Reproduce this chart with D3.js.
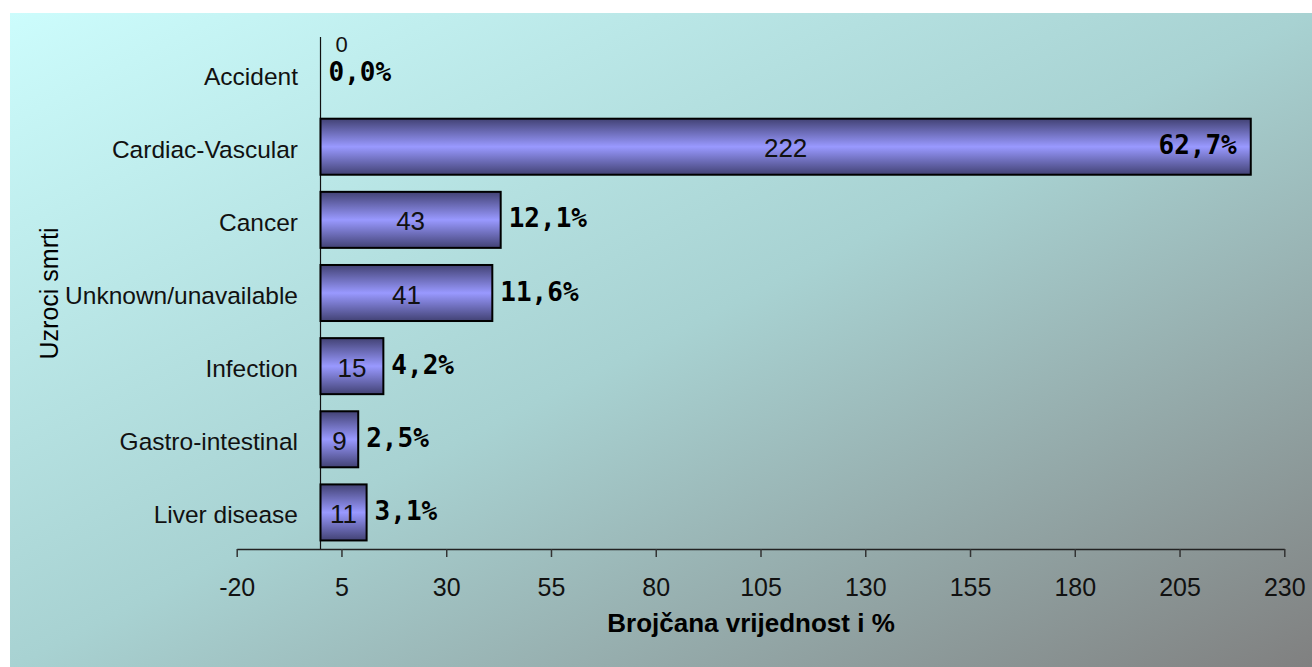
<!DOCTYPE html>
<html>
<head>
<meta charset="utf-8">
<script src="https://cdn.jsdelivr.net/npm/d3@7"></script>
<style>
  html, body { margin: 0; padding: 0; background: #ffffff; }
  svg { display: block; }
</style>
</head>
<body>
<svg id="chart" width="1312" height="667"></svg>
<script>
// ---- data ----
const categories = ["Accident", "Cardiac-Vascular", "Cancer", "Unknown/unavailable", "Infection", "Gastro-intestinal", "Liver disease"];
const counts = [0, 222, 43, 41, 15, 9, 11];
const percentLabels = ["0,0%", "62,7%", "12,1%", "11,6%", "4,2%", "2,5%", "3,1%"];
const tickValues = [-20, 5, 30, 55, 80, 105, 130, 155, 180, 205, 230];
const xTitle = "Brojčana vrijednost i %";
const yTitle = "Uzroci smrti";

// ---- layout ----
const W = 1312, H = 667;
const svg = d3.select("#chart");
const defs = svg.append("defs");

const bg = defs.append("linearGradient").attr("id", "bgGrad")
  .attr("x1", 0).attr("y1", 0).attr("x2", 1).attr("y2", 1);
bg.append("stop").attr("offset", "0%").attr("stop-color", "#ccfcfc");
bg.append("stop").attr("offset", "50%").attr("stop-color", "#a8d2d2");
bg.append("stop").attr("offset", "100%").attr("stop-color", "#808080");

const barGrad = defs.append("linearGradient").attr("id", "barGrad")
  .attr("x1", 0).attr("y1", 0).attr("x2", 0).attr("y2", 1);
barGrad.append("stop").attr("offset", "0%").attr("stop-color", "#424274");
barGrad.append("stop").attr("offset", "50%").attr("stop-color", "#9999ff");
barGrad.append("stop").attr("offset", "100%").attr("stop-color", "#424274");

svg.append("rect").attr("x", 10).attr("y", 13).attr("width", W - 10).attr("height", H - 13)
  .attr("fill", "url(#bgGrad)");

const plotTop = 37, plotBottom = 549;
const x = d3.scaleLinear().domain([-20, 230]).range([236.7, 1284.3]);
const y = d3.scaleBand().domain(categories).range([plotTop, plotBottom])
  .paddingInner(0.234).paddingOuter(0.117);

const data = categories.map((c, i) => ({ cat: c, v: counts[i], pct: percentLabels[i] }));

// x axis
const xAxis = d3.axisBottom(x).tickValues(tickValues).tickSize(8).tickSizeOuter(0).tickPadding(21)
  .tickFormat(d => String(d));
const gx = svg.append("g").attr("transform", `translate(0,${plotBottom})`).call(xAxis);
gx.select(".domain").attr("stroke", "#222").attr("stroke-width", 1.5);
gx.selectAll(".tick line").attr("stroke", "#333").attr("stroke-width", 1.5);
gx.selectAll(".tick text").attr("font-family", "'Liberation Sans', Arial, sans-serif")
  .attr("font-size", 25).attr("fill", "#111");

// y axis line (at zero)
svg.append("line").attr("x1", x(0)).attr("x2", x(0)).attr("y1", plotTop).attr("y2", plotBottom)
  .attr("stroke", "#111").attr("stroke-width", 1.2);

// category labels
svg.append("g").selectAll("text").data(categories).join("text")
  .attr("x", 298).attr("y", d => y(d) + y.bandwidth() / 2).attr("dy", "0.45em")
  .attr("text-anchor", "end")
  .attr("font-family", "'Liberation Sans', Arial, sans-serif").attr("font-size", 24.5)
  .attr("fill", "#111").text(d => d);

// bars
svg.append("g").selectAll("rect").data(data.filter(d => d.v > 0)).join("rect")
  .attr("x", x(0)).attr("y", d => y(d.cat))
  .attr("width", d => x(d.v) - x(0)).attr("height", y.bandwidth())
  .attr("fill", "url(#barGrad)").attr("stroke", "#000").attr("stroke-width", 2);

// value labels
svg.append("g").selectAll("text").data(data).join("text")
  .attr("x", d => d.v > 0 ? (x(0) + x(d.v)) / 2 : x(0) + 21)
  .attr("y", d => d.v > 0 ? y(d.cat) + y.bandwidth() / 2 + 10.5 : y(d.cat) + y.bandwidth() / 2 - 21.6)
  .attr("text-anchor", "middle")
  .attr("font-family", "'Liberation Sans', Arial, sans-serif").attr("font-size", d => d.v > 0 ? 26 : 22)
  .attr("fill", "#111").text(d => d.v);

// percent labels
const xRight = x.range()[1];
svg.append("g").selectAll("text").data(data).join("text")
  .each(function(d) {
    const t = d3.select(this);
    const end = x(d.v);
    const inside = end + 10 + 82 > xRight;
    t.attr("x", inside ? end - 14 : end + 8)
     .attr("text-anchor", inside ? "end" : "start");
  })
  .attr("y", d => y(d.cat) + y.bandwidth() / 2 + 7.5)
  .attr("font-family", "'DejaVu Sans Mono', monospace").attr("font-weight", "bold")
  .attr("font-size", 26).attr("fill", "#000").text(d => d.pct);

// axis titles
svg.append("text").attr("x", 751).attr("y", 632).attr("text-anchor", "middle")
  .attr("font-family", "'Liberation Sans', Arial, sans-serif").attr("font-weight", "bold")
  .attr("font-size", 26).attr("fill", "#000").text(xTitle);

svg.append("text").attr("transform", "translate(58,293.5) rotate(-90)").attr("text-anchor", "middle")
  .attr("font-family", "'Liberation Sans', Arial, sans-serif")
  .attr("font-size", 25).attr("fill", "#000").text(yTitle);
</script>
</body>
</html>
